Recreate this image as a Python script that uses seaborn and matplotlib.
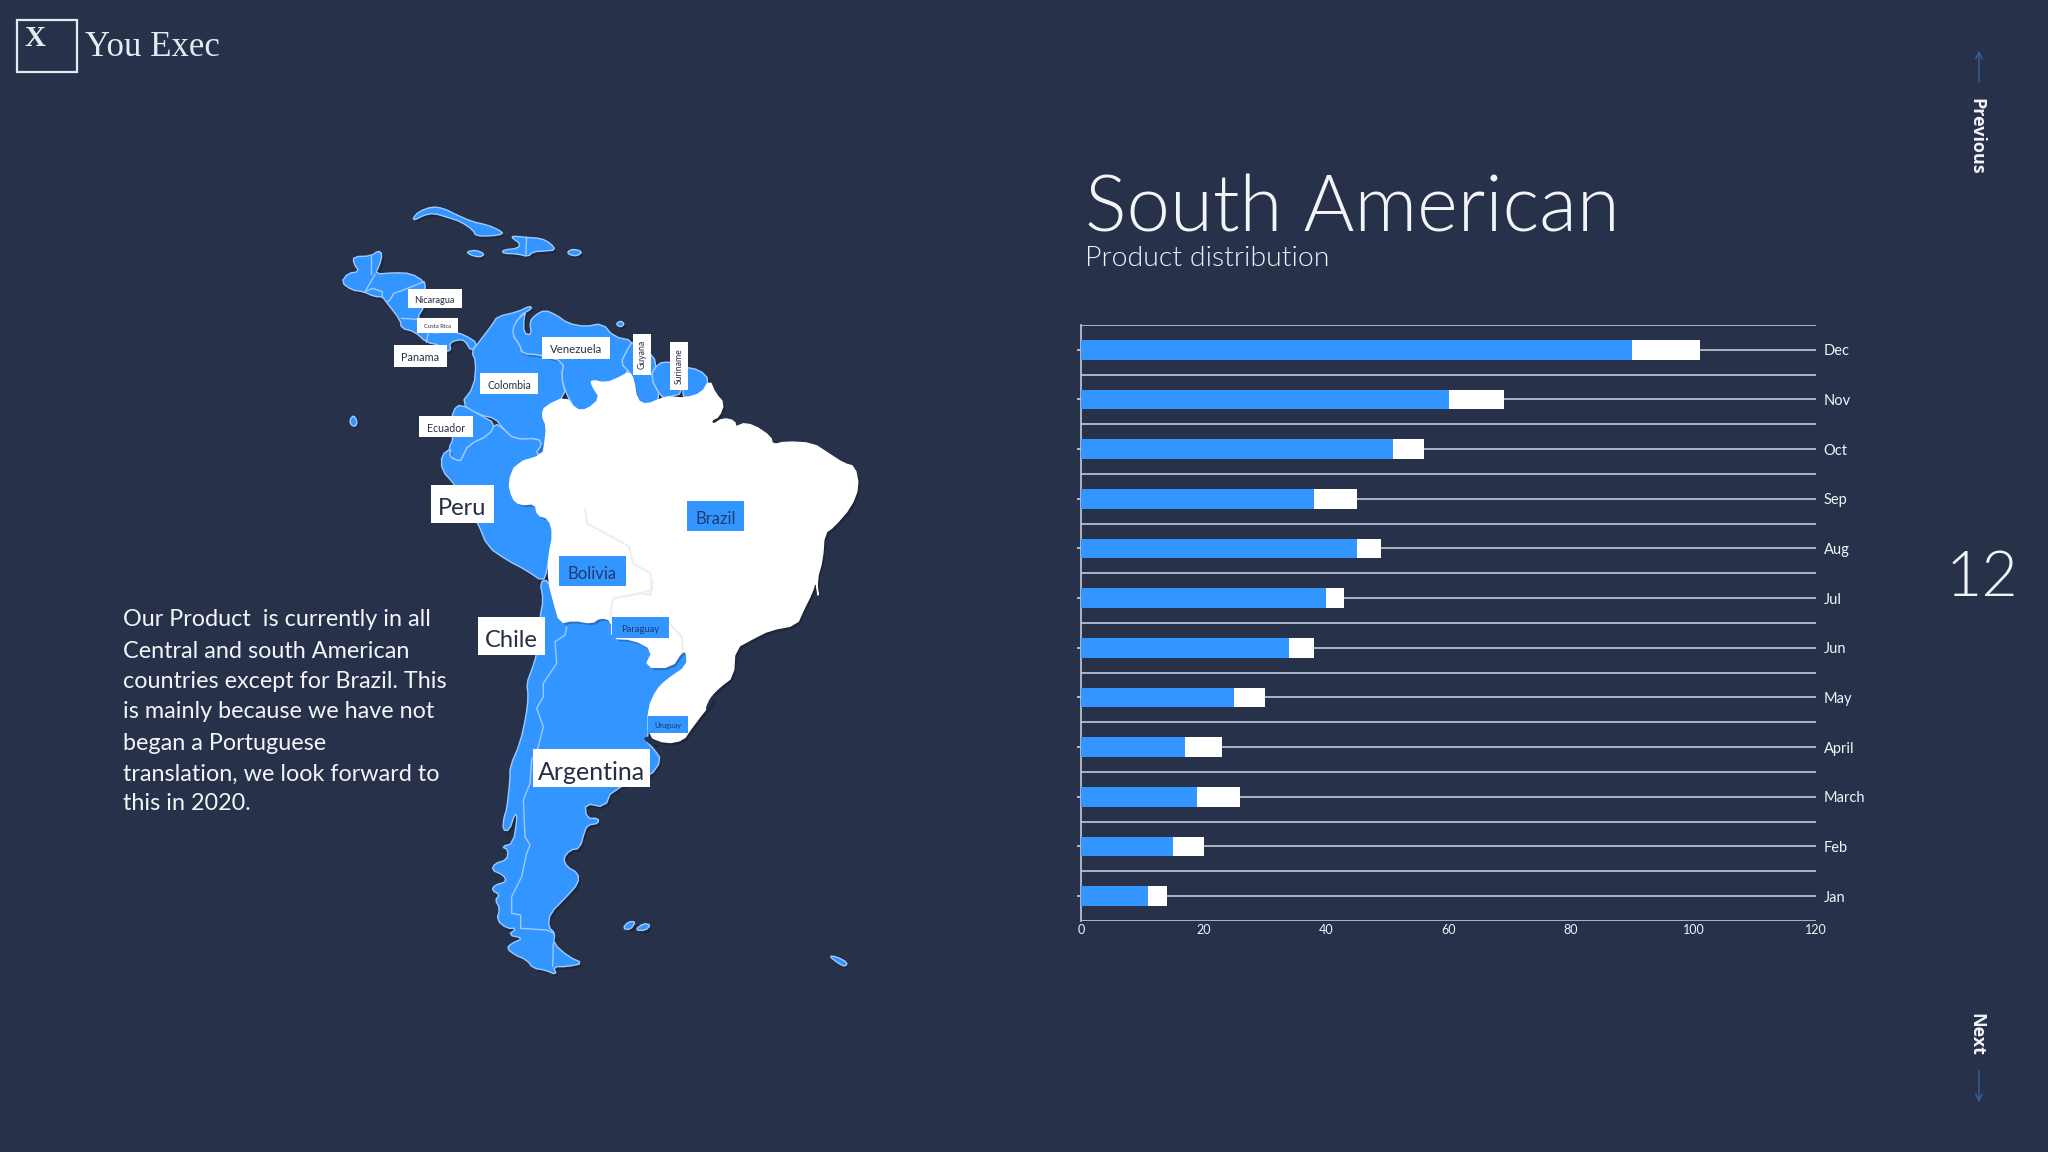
import matplotlib
matplotlib.use('Agg')
import matplotlib.pyplot as plt
import matplotlib.patheffects as pe
from matplotlib.patches import Rectangle
import seaborn as sns

# chart data, top row first
months = ['Dec', 'Nov', 'Oct', 'Sep', 'Aug', 'Jul', 'Jun', 'May', 'April', 'March', 'Feb', 'Jan']
blue_values = [90, 60, 51, 38, 45, 40, 34, 25, 17, 19, 15, 11]
white_values = [11, 9, 5, 7, 4, 3, 4, 5, 6, 7, 5, 3]
x_ticks = [0, 20, 40, 60, 80, 100, 120]

paragraph = ['Our Product  is currently in all', 'Central and south American',
             'countries except for Brazil. This', 'is mainly because we have not',
             'began a Portuguese', 'translation, we look forward to', 'this in 2020.']

BG = '#27314a'
BLUE = '#3395ff'
EDGE = '#9ccbff'
DARK = '#262e45'
NAVY = '#1e3a6e'
PANEL_TEXT = '#f2f4f8'
LINE = '#c5cad6'

# map outlines were traced off two crops of the picture
# north_* points: x = 300 + px / 2.613, y = 180 + py / 3
# south_* points: x = 400 + px / 3, y = 580 + py / 3
north_cuba = [(295, 115), (310, 95), (345, 80), (375, 85), (410, 105), (450, 125), (490, 135), (520, 150), (532, 162),
              (500, 168), (460, 168), (452, 150), (420, 125), (385, 112), (350, 100), (325, 105), (300, 120)]
north_hispaniola = [(555, 168), (590, 172), (630, 175), (655, 190), (668, 210), (640, 213), (610, 215), (595, 230),
                    (570, 222), (530, 220), (530, 210), (570, 205), (575, 190), (555, 175)]
north_jamaica = [(435, 215), (460, 210), (483, 222), (470, 232), (445, 225)]
north_puerto = [(698, 215), (715, 207), (738, 215), (725, 228), (705, 225)]
north_galapagos = [(130, 720), (140, 705), (150, 725), (145, 740), (133, 735)]
north_trinidad = [(825, 432), (838, 422), (848, 432), (838, 442)]
north_central = [(140, 230), (185, 228), (205, 212), (215, 222), (208, 255), (196, 283), (245, 278), (290, 280), (325, 305),
                 (328, 325), (325, 380), (305, 415), (335, 460), (400, 455), (430, 465), (465, 490), (448, 515), (430, 480),
                 (410, 480), (390, 490), (395, 510), (380, 515), (365, 495), (330, 487), (300, 455), (265, 445), (262, 420),
                 (225, 365), (215, 350), (195, 350), (165, 335), (135, 330), (108, 307), (125, 280), (155, 275), (140, 250)]
north_colombia = [(448, 515), (465, 490), (505, 430), (515, 410), (570, 395), (600, 378), (607, 385), (570, 410), (555, 465),
                  (575, 495), (580, 520), (630, 525), (690, 545), (683, 590), (695, 650), (640, 680), (632, 705), (645, 740),
                  (640, 790), (635, 825), (615, 820), (632, 795), (622, 775), (560, 778), (530, 745), (510, 715), (470, 705),
                  (420, 672), (455, 620), (460, 545)]
north_ecuador = [(420, 672), (470, 705), (510, 730), (495, 765), (440, 795), (425, 830), (418, 845), (390, 830), (390, 800),
                 (400, 780), (395, 740), (400, 690)]
north_peru = [(395, 805), (390, 830), (418, 845), (425, 830), (440, 795), (495, 765), (510, 730), (530, 745), (560, 778),
              (622, 775), (632, 795), (615, 820), (635, 825), (565, 850), (545, 905), (555, 955), (575, 975), (615, 970),
              (620, 1005), (650, 1015), (662, 1060), (650, 1130), (645, 1175), (635, 1205), (590, 1170), (540, 1140),
              (490, 1100), (465, 1030), (430, 960), (405, 915), (370, 870), (370, 825)]
north_venezuela = [(590, 395), (560, 430), (555, 465), (575, 495), (580, 520), (630, 525), (690, 545), (683, 590), (695, 640),
                   (720, 690), (750, 690), (785, 655), (765, 620), (760, 600), (800, 610), (840, 590), (860, 575), (838, 550),
                   (855, 510), (870, 482), (820, 470), (790, 430), (745, 440), (700, 430), (670, 405), (640, 390), (615, 405),
                   (600, 425), (605, 465), (585, 460), (585, 415)]
north_guyana = [(870, 482), (900, 500), (935, 550), (915, 590), (945, 655), (905, 675), (880, 660), (872, 600), (860, 575),
                (838, 550), (855, 510)]
north_suriname = [(935, 550), (965, 545), (1000, 560), (1000, 640), (965, 650), (945, 655), (915, 590)]
north_guiana = [(1000, 560), (1045, 570), (1070, 600), (1050, 640), (1005, 655), (1000, 640)]

north_white_coast = [(1070, 600), (1085, 640), (1108, 670), (1095, 710), (1075, 720), (1078, 735), (1105, 715), (1135, 722),
                     (1140, 745), (1118, 765), (1150, 730), (1185, 735), (1230, 770), (1235, 795), (1270, 785), (1340, 790),
                     (1380, 820), (1420, 850), (1450, 860), (1460, 920), (1440, 980), (1395, 1040), (1370, 1060),
                     (1365, 1140), (1350, 1200), (1355, 1260)]
south_white_coast = [(1248, 0), (1235, 40), (1210, 90), (1190, 135), (1110, 150), (1060, 175), (1005, 205), (1000, 290),
                     (960, 320), (930, 350), (920, 385), (900, 410), (870, 450), (850, 480), (800, 490), (745, 470)]
south_shared = [(745, 385), (770, 330), (800, 300), (862, 258), (860, 215), (845, 215), (815, 262), (735, 262), (760, 210),
                (700, 178), (635, 175), (635, 120), (600, 112), (575, 130), (520, 120), (480, 130), (460, 60), (445, 0)]
north_white_west = [(650, 1130), (662, 1060), (650, 1015), (620, 1005), (615, 970), (575, 975), (555, 955), (545, 905),
                    (565, 850), (635, 825), (640, 790), (645, 740), (632, 705), (640, 680), (695, 650), (720, 690), (750, 690),
                    (785, 655), (765, 620), (760, 600), (800, 610), (840, 590), (860, 575), (872, 600), (880, 660), (905, 675),
                    (945, 655), (965, 650), (1005, 655), (1050, 640)]
south_cone_outer = [(420, 5), (430, 60), (420, 110), (410, 225), (395, 270), (380, 310), (385, 350), (378, 410), (360, 490),
                    (330, 560), (330, 600), (320, 690), (312, 710), (308, 750), (328, 752), (345, 700), (352, 710), (340, 790),
                    (305, 800), (325, 810), (320, 840), (285, 850), (275, 870), (310, 885), (320, 905), (285, 915), (275, 930),
                    (300, 945), (285, 960), (300, 985), (290, 1020), (320, 1045), (350, 1045), (325, 1065), (370, 1075),
                    (335, 1090), (320, 1105), (345, 1125), (380, 1140), (400, 1165), (435, 1170), (470, 1185), (460, 1160),
                    (500, 1160), (550, 1150), (505, 1130), (460, 1090), (465, 1060), (445, 1040), (450, 1000), (500, 950),
                    (535, 910), (535, 880), (500, 860), (490, 835), (510, 810), (540, 805), (555, 750), (565, 735), (595, 730),
                    (595, 715), (560, 715), (555, 670), (615, 682), (635, 630), (750, 590), (785, 540), (760, 505), (735, 480),
                    (745, 470)]
south_falkland_a = [(668, 1045), (685, 1025), (708, 1025), (690, 1050)]
south_falkland_b = [(705, 1050), (730, 1030), (753, 1035), (735, 1052)]
south_georgia = [(1287, 1128), (1310, 1130), (1343, 1148), (1335, 1160), (1315, 1150)]
south_lagoon = [(935, 350), (942, 352), (925, 385), (918, 385)]
south_plata = [(732, 478), (745, 470), (775, 490), (760, 495)]

south_andes_border = [(500, 140), (495, 165), (465, 185), (470, 250), (430, 310), (430, 350), (410, 385), (430, 440), (415, 500),
                      (395, 540), (390, 610), (370, 660), (375, 770), (390, 795), (380, 820), (365, 890), (335, 950), (335, 1000),
                      (362, 1005), (362, 1045), (440, 1050), (462, 1060)]
south_fuego_border = [(460, 1090), (458, 1160)]
north_central_borders = [[(185, 228), (185, 283)], [(196, 283), (170, 335)], [(170, 335), (190, 325), (215, 335), (215, 352)],
                         [(325, 305), (270, 330), (245, 340), (235, 360), (228, 365)], [(265, 415), (305, 418)],
                         [(335, 460), (330, 487)]]
north_hispaniola_border = [(592, 172), (590, 225)]
north_inner_borders = [[(745, 985), (750, 1030), (830, 1080), (860, 1100), (870, 1150), (915, 1180), (920, 1230), (850, 1250)]]
south_inner_borders = [[(635, 120), (632, 85), (640, 55), (720, 40), (750, 45), (758, 0)],
                       [(808, 130), (845, 170), (848, 215)]]


def from_north(points):
    return [(300 + px / 2.613, 180 + py / 3) for px, py in points]


def from_south(points):
    return [(400 + px / 3, 580 + py / 3) for px, py in points]


def round_corners(points, passes=1):
    # chaikin corner cutting so the traced coast is not so angular
    for _ in range(passes):
        out = []
        for i, (x0, y0) in enumerate(points):
            x1, y1 = points[(i + 1) % len(points)]
            out.append((0.75 * x0 + 0.25 * x1, 0.75 * y0 + 0.25 * y1))
            out.append((0.25 * x0 + 0.75 * x1, 0.25 * y0 + 0.75 * y1))
        points = out
    return points


def draw_land(ax, points, face=BLUE, edge=EDGE, z=2):
    xs, ys = zip(*round_corners(points))
    patch = ax.fill(xs, ys, facecolor=face, edgecolor=edge, linewidth=1.0, zorder=z, joinstyle='round')[0]
    patch.set_path_effects([pe.SimplePatchShadow(offset=(1.5, -2), alpha=0.22, shadow_rgbFace='black'), pe.Normal()])


def draw_border(ax, points, color=EDGE, lw=1.0, z=3):
    xs, ys = zip(*points)
    ax.plot(xs, ys, color=color, lw=lw, zorder=z, solid_joinstyle='round')


def draw_label(ax, x0, y0, x1, y1, text, size, face='white', color=DARK, rotation=0):
    ax.add_patch(Rectangle((x0, y0), x1 - x0, y1 - y0, facecolor=face, edgecolor='none', zorder=5))
    cx, cy = (x0 + x1) / 2, (y0 + y1) / 2
    if rotation:
        ax.text(cx, cy, text, fontsize=size, color=color, ha='center', va='center', rotation=rotation, zorder=6, family='Lato')
    else:
        ax.text(cx, cy + size * 0.12, text, fontsize=size, color=color, ha='center', va='center_baseline', zorder=6, family='Lato')


sns.set_theme(style='white')
plt.rcParams['font.family'] = ['Lato', 'DejaVu Sans']

fig = plt.figure(figsize=(20.48, 11.52), dpi=100, facecolor=BG)

# whole-page layer in pixel units for the map and the slide furniture
page = fig.add_axes([0, 0, 1, 1], facecolor=BG)
page.set_xlim(0, 2048)
page.set_ylim(1152, 0)
page.axis('off')

for shape in [north_cuba, north_hispaniola, north_jamaica, north_puerto, north_galapagos, north_trinidad, north_central,
              north_colombia, north_ecuador, north_peru, north_venezuela, north_guyana, north_suriname, north_guiana]:
    draw_land(page, from_north(shape))
for shape in [south_cone_outer + south_shared, south_falkland_a, south_falkland_b, south_georgia]:
    draw_land(page, from_south(shape))

white_outline = (from_north(north_white_coast) + from_south(south_white_coast) + from_south(south_shared)
                 + from_north(north_white_west))
draw_land(page, white_outline, face='white', edge='white', z=3)
draw_land(page, from_south(south_lagoon), face=BG, edge=BG, z=4)
draw_land(page, from_south(south_plata), face=BG, edge=BG, z=4)

draw_border(page, from_south(south_andes_border))
draw_border(page, from_south(south_fuego_border))
draw_border(page, from_north(north_hispaniola_border))
for line in north_central_borders:
    draw_border(page, from_north(line))
for line in north_inner_borders:
    draw_border(page, from_north(line), color='#eceef1', lw=1.5, z=4)
for line in south_inner_borders:
    draw_border(page, from_south(line), color='#eceef1', lw=1.5, z=4)

draw_label(page, 407.5, 289, 461.5, 308, 'Nicaragua', 6.6)
draw_label(page, 417, 318, 458, 333, 'Costa Rica', 4.2)
draw_label(page, 394, 345, 447, 367, 'Panama', 7.8)
draw_label(page, 541.5, 337, 610, 359, 'Venezuela', 8.2)
draw_label(page, 633, 334, 650.5, 375, 'Guyana', 6.2, rotation=90)
draw_label(page, 670, 342, 688, 390, 'Suriname', 6.2, rotation=90)
draw_label(page, 480, 373, 538, 394, 'Colombia', 7.6)
draw_label(page, 419, 416, 472.6, 437, 'Ecuador', 7.6)
draw_label(page, 431, 485, 494, 523, 'Peru', 17)
draw_label(page, 687, 501, 744, 531, 'Brazil', 12, face=BLUE, color=NAVY)
draw_label(page, 559, 556, 626, 586, 'Bolivia', 12, face=BLUE, color=NAVY)
draw_label(page, 478, 617, 545, 655, 'Chile', 17)
draw_label(page, 612, 617, 669, 638, 'Paraguay', 6.8, face=BLUE, color=NAVY)
draw_label(page, 648, 716, 688, 733, 'Uruguay', 5.2, face=BLUE, color=NAVY)
draw_label(page, 533, 749, 650, 787, 'Argentina', 18)

line_centres = [620, 651, 681, 712, 743, 774, 804]
for y, line in zip(line_centres, paragraph):
    page.text(123, y, line, fontsize=16.8, color=PANEL_TEXT, ha='left', va='center')

# logo
page.add_patch(Rectangle((17, 20), 60, 52, facecolor='none', edgecolor='#e6eaf2', linewidth=1.6))
page.text(35, 38, 'X', fontsize=21, family='Liberation Serif', weight='bold', color='#e6eaf2', ha='center', va='center')
page.text(85, 48, 'You Exec', fontsize=25, family='Liberation Serif', color='#e6eaf2', ha='left', va='center')

# title block
page.text(1085, 210, 'South American', fontsize=56, family='Lato', weight=300, color=PANEL_TEXT, ha='left', va='center')
page.text(1085, 258, 'Product distribution', fontsize=20.5, family='Lato', weight=300, color=PANEL_TEXT, ha='left', va='center')

# side navigation
page.text(1976, 136, 'Previous', fontsize=13, family='Open Sans', weight='bold', color=PANEL_TEXT, rotation=-90,
          ha='center', va='center')
page.text(1976, 1034, 'Next', fontsize=13, family='Open Sans', weight='bold', color=PANEL_TEXT, rotation=-90,
          ha='center', va='center')
page.text(1982, 579, '12', fontsize=45, family='Lato', weight=300, color=PANEL_TEXT, ha='center', va='center')
page.annotate('', xy=(1979, 48), xytext=(1979, 85), arrowprops=dict(arrowstyle='->', color='#34639a', lw=1.0))
page.annotate('', xy=(1979, 1105), xytext=(1979, 1068), arrowprops=dict(arrowstyle='->', color='#34639a', lw=1.0))

# bar chart
ax = fig.add_axes([1081 / 2048, 1 - 921 / 1152, 735 / 2048, 596 / 1152], facecolor='none')
totals = [b + w for b, w in zip(blue_values, white_values)]
sns.barplot(x=totals, y=months, color='white', saturation=1, width=0.4, linewidth=0, ax=ax, zorder=3)
sns.barplot(x=blue_values, y=months, color=BLUE, saturation=1, width=0.4, linewidth=0, ax=ax, zorder=4)

ax.set_xlim(0, 120)
ax.set_ylim(11.5, -0.5)
ax.set_xticks(x_ticks)
ax.set_yticks(range(len(months)))
ax.set_yticks([i - 0.5 for i in range(len(months) + 1)], minor=True)
ax.set_yticklabels(months)
ax.set_axisbelow(True)
ax.grid(True, axis='y', which='both', color=LINE, linewidth=1.2)
ax.grid(False, axis='x')
ax.set_xlabel('')
ax.set_ylabel('')
sns.despine(ax=ax, top=True, right=True, bottom=True, left=False)
ax.spines['left'].set_color(LINE)
ax.spines['left'].set_linewidth(1.2)
ax.tick_params(axis='y', which='major', left=True, right=False, labelleft=False, labelright=True, length=3,
               color=LINE, labelcolor=PANEL_TEXT, labelsize=10.5, pad=2.5)
ax.tick_params(axis='y', which='minor', left=False, right=False)
ax.tick_params(axis='x', bottom=False, length=0, labelsize=9, labelcolor=PANEL_TEXT, pad=2.5)

fig.savefig('out.png', dpi=100, facecolor=BG)
